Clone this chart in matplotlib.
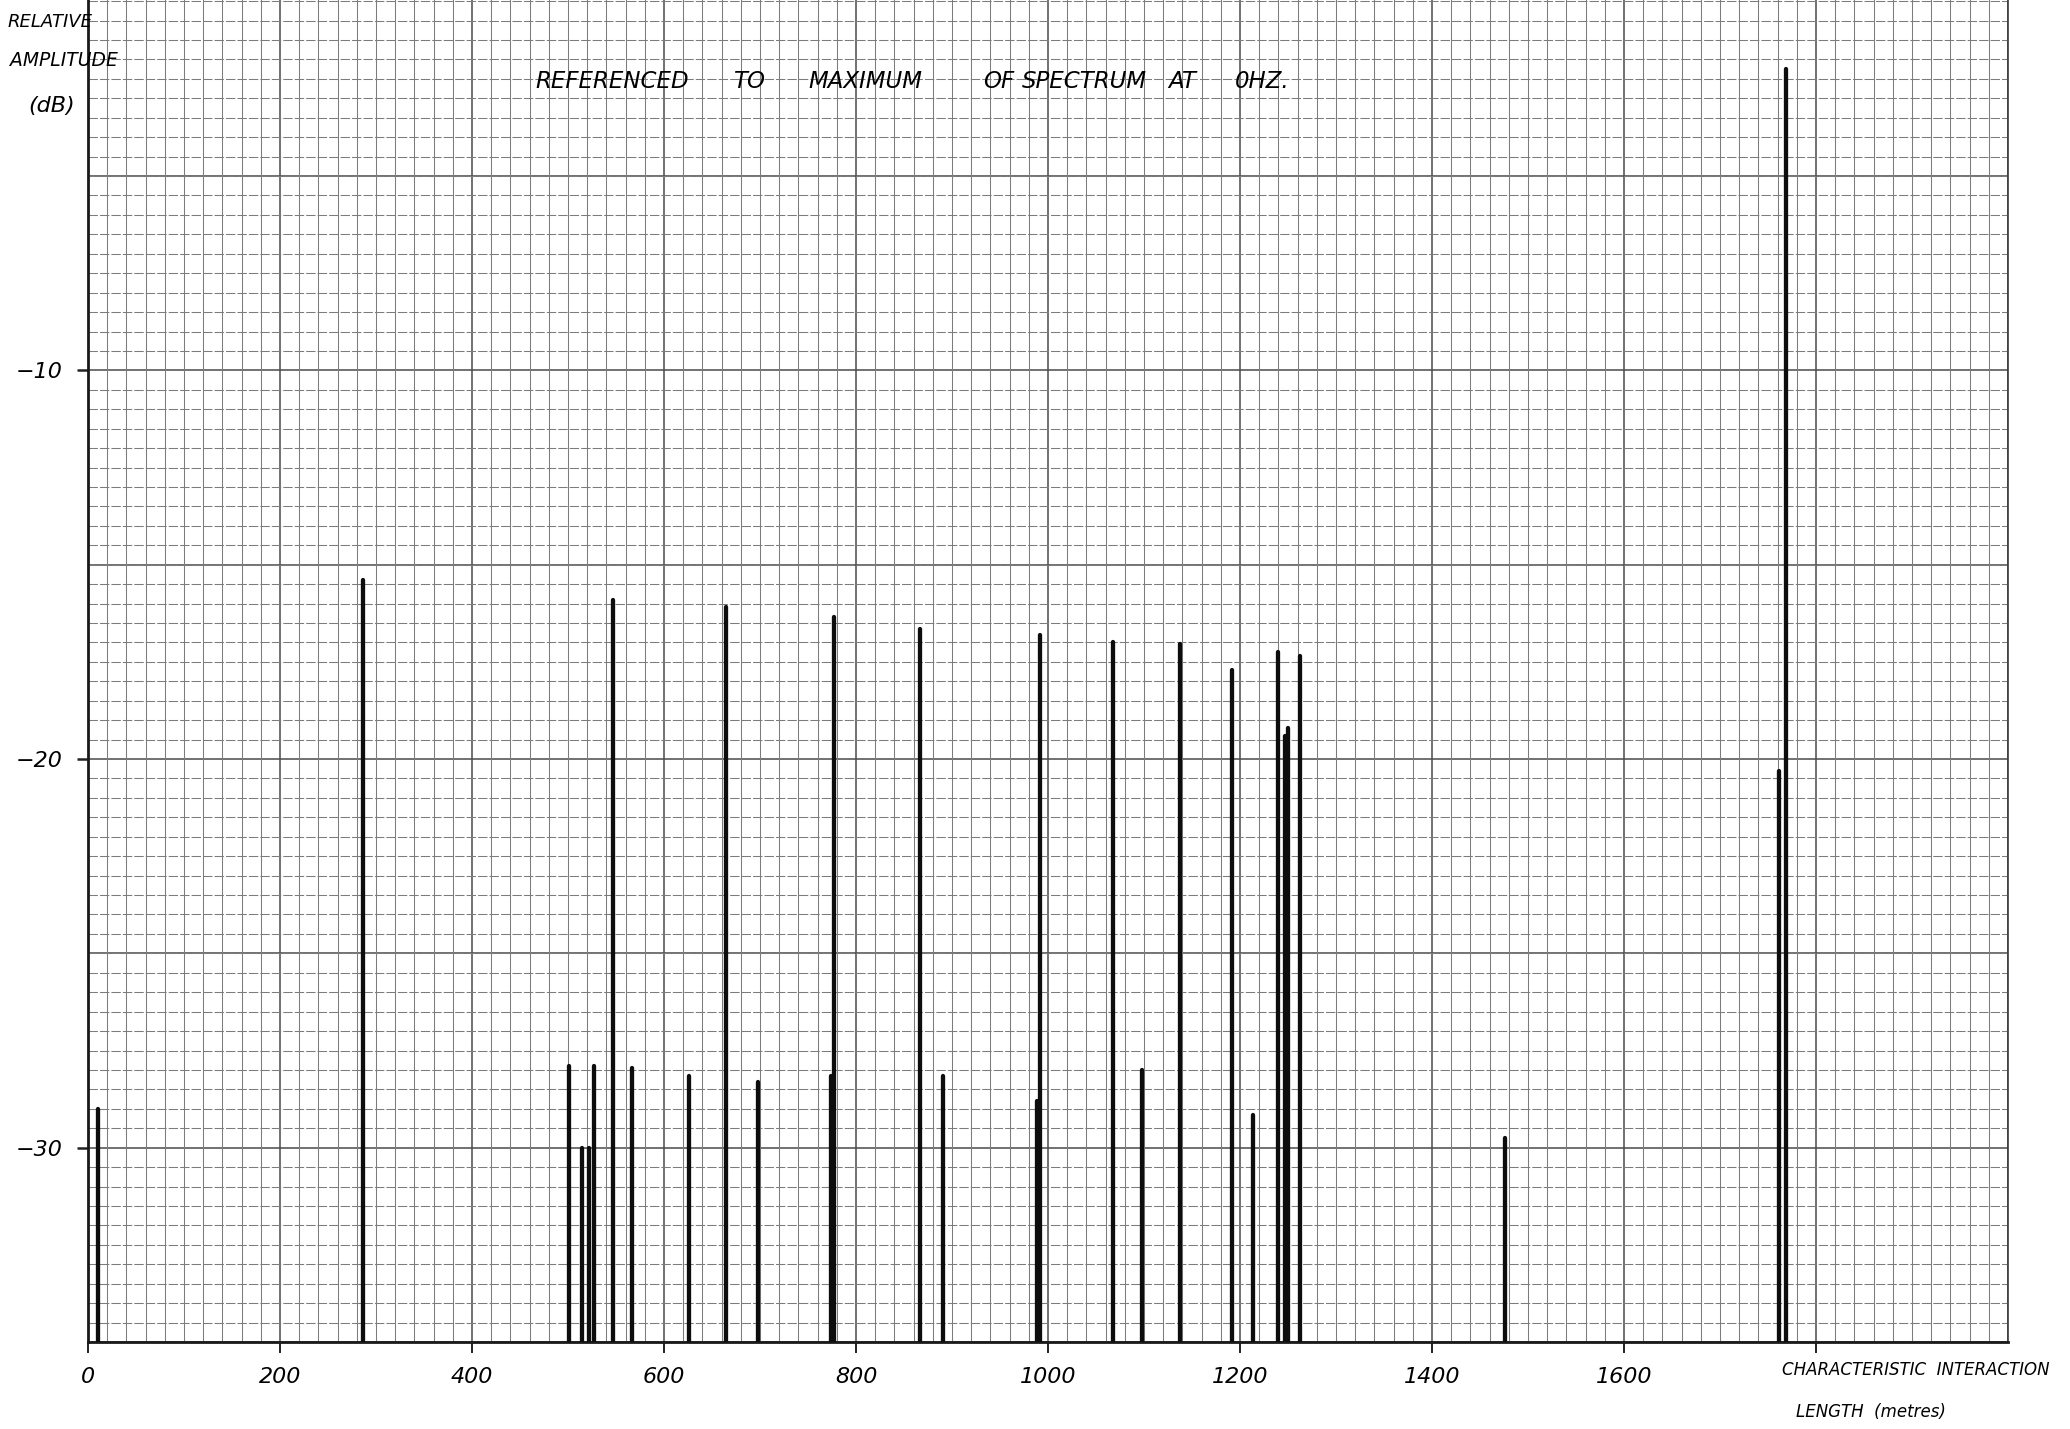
import matplotlib
matplotlib.use("Agg")
import matplotlib.pyplot as plt
from matplotlib.ticker import MultipleLocator
import numpy as np

# ---- data ----
length_m = [10, 286, 501, 515, 522, 527, 547, 567, 626, 665, 698, 774, 777,
            867, 891, 989, 992, 1068, 1098, 1138, 1192, 1214, 1240, 1247,
            1250, 1262, 1476, 1761, 1769]
amplitude_db = [-29.0, -15.4, -27.9, -30.0, -30.0, -27.9, -15.9, -27.95,
                -28.15, -16.1, -28.3, -28.15, -16.35, -16.65, -28.15, -28.8,
                -16.8, -17.0, -28.0, -17.05, -17.7, -29.15, -17.25, -19.4,
                -19.2, -17.35, -29.75, -20.3, -2.25]

x_ticks = [0, 200, 400, 600, 800, 1000, 1200, 1400, 1600, 1800]
x_tick_labels = ["0", "200", "400", "600", "800", "1000", "1200", "1400", "1600", ""]
y_ticks = [-10, -20, -30]
y_tick_labels = ["\u221210", "\u221220", "\u221230"]

title_words = ["REFERENCED", "TO", "MAXIMUM", "OF", "SPECTRUM", "AT", "0HZ."]
y_label_lines = ["RELATIVE", "AMPLITUDE", "(dB)"]
x_label_lines = ["CHARACTERISTIC  INTERACTION", "LENGTH  (metres)"]

W, H = 2070, 1429
fig = plt.figure(figsize=(W / 100, H / 100), dpi=100)
fig.patch.set_facecolor("white")

ax_left, ax_right, ax_bottom_px = 88, 2008, 1342
ax = fig.add_axes([ax_left / W, (H - ax_bottom_px) / H,
                   (ax_right - ax_left) / W, ax_bottom_px / H])
ax.set_xlim(0, 2000)
ax.set_ylim(-35, -0.47)

# graph-paper grid
ax.xaxis.set_minor_locator(MultipleLocator(20))
ax.yaxis.set_minor_locator(MultipleLocator(0.5))
ax.grid(which="minor", axis="x", color="#7c7c7c", lw=0.75, linestyle="-")
ax.grid(which="minor", axis="y", color="#7c7c7c", lw=0.75, linestyle=(0, (9, 2)))
for xv in np.arange(0, 2001, 200):
    ax.axvline(xv, color="#4a4a4a", lw=1.1, zorder=0.5)
for yv in np.arange(-35, 0, 5):
    ax.axhline(yv, color="#4a4a4a", lw=1.1, zorder=0.5)

# spectrum lines
lc = ax.vlines(length_m, -35, amplitude_db, color="#0d0d0d", lw=3.1, zorder=3)
lc.set_capstyle("round")

# ticks
ax.set_xticks(x_ticks)
ax.set_xticklabels(x_tick_labels, fontsize=16, style="italic")
ax.set_yticks(y_ticks)
ax.set_yticklabels(y_tick_labels, fontsize=16, style="italic")
ax.tick_params(axis="x", which="major", length=8, width=1.4, pad=10, color="#222222")
ax.tick_params(axis="y", which="major", length=8, width=1.8, pad=10, color="#222222")
ax.tick_params(which="minor", length=0)
ax.grid(which="major", visible=False)

for side in ("left", "bottom"):
    ax.spines[side].set_linewidth(2.0)
    ax.spines[side].set_color("#1a1a1a")
ax.spines["right"].set_linewidth(1.2)
ax.spines["right"].set_color("#3a3a3a")
ax.spines["top"].set_visible(False)


def ftext(x, y, s, **kw):
    fig.text(x / W, 1 - y / H, s, **kw)


# y axis label (top left)
ftext(8, 22, y_label_lines[0], fontsize=13, style="italic", va="center", ha="left")
ftext(10, 60, y_label_lines[1], fontsize=13.5, style="italic", va="center", ha="left")
ftext(28, 106, y_label_lines[2], fontsize=16, style="italic", va="center", ha="left")

# title words
title_x = [535, 733, 808, 983, 1022, 1168, 1235]
for wx, word in zip(title_x, title_words):
    ftext(wx, 82, word, fontsize=16.5, style="italic", va="center", ha="left")

# x axis label (bottom right)
ftext(1782, 1370, x_label_lines[0], fontsize=12, style="italic", va="center", ha="left")
ftext(1796, 1412, x_label_lines[1], fontsize=12, style="italic", va="center", ha="left")

fig.savefig("out.png", dpi=100, facecolor="white")
